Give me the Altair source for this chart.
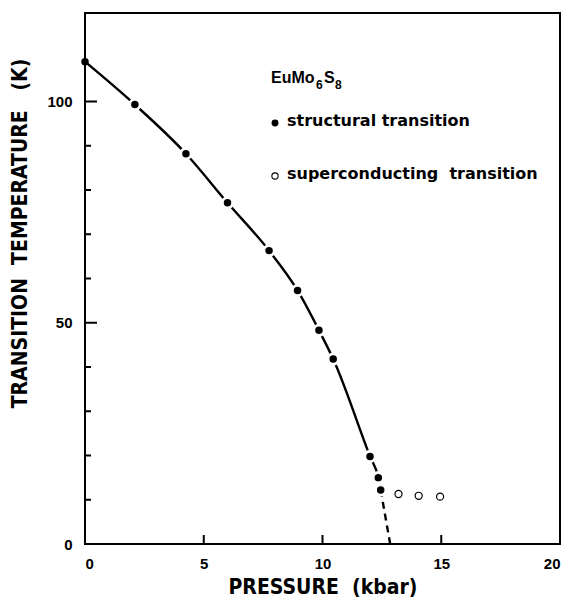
import altair as alt
import pandas as pd

# Structural transition (filled circles)
struct_p = [0.0, 2.1, 4.25, 6.0, 7.75, 8.95, 9.85, 10.45, 12.0, 12.35, 12.45]
struct_t = [109.0, 99.3, 88.2, 77.1, 66.3, 57.3, 48.3, 41.8, 19.8, 15.0, 12.2]

# Superconducting transition (open circles)
super_p = [13.2, 14.05, 14.95]
super_t = [11.3, 10.9, 10.7]

# Dashed extrapolation of the phase boundary down to T = 0
extrap_p = [12.45, 12.85]
extrap_t = [12.2, 0.0]

# Axis ticks
x_major = [5, 10, 15]
y_major = [50, 100]
y_minor = [10, 20, 30, 40, 60, 70, 80, 90]
x_labels = [0, 5, 10, 15, 20]
y_labels = [0, 50, 100]

W, H = 475, 531
TITLE_FONT = "'DejaVu Sans Condensed', 'Liberation Sans Narrow', Roboto, sans-serif"
LABEL_FONT = "Liberation Sans"
TEXT_FONT = "DejaVu Sans"

struct_df = pd.DataFrame({"p": struct_p, "t": struct_t})
super_df = pd.DataFrame({"p": super_p, "t": super_t})
extrap_df = pd.DataFrame({"p": extrap_p, "t": extrap_t})

xs = alt.Scale(domain=[0, 20], nice=False, zero=False)
ys = alt.Scale(domain=[0, 120], nice=False, zero=False)

x_axis = alt.Axis(
    values=x_labels, ticks=False, domain=False, grid=False,
    labelFont=LABEL_FONT, labelFontSize=15, labelFontWeight="bold",
    labelColor="black", labelPadding=12,
    title="PRESSURE\u00a0\u00a0(kbar)", titleFont=TITLE_FONT, titleFontSize=21,
    titleFontWeight="bold", titleColor="black", titleY=43,
    titleBaseline="middle",
)
y_axis = alt.Axis(
    values=y_labels, ticks=False, domain=False, grid=False,
    labelFont=LABEL_FONT, labelFontSize=15, labelFontWeight="bold",
    labelColor="black", labelPadding=13,
    title="TRANSITION\u00a0\u00a0TEMPERATURE\u00a0\u00a0\u00a0(K)",
    titleFont=TITLE_FONT, titleFontSize=21, titleFontWeight="bold",
    titleColor="black", titleAngle=270, titleX=-65, titleY=220,
    titleAlign="center", titleBaseline="middle",
)

X = alt.X("p:Q", scale=xs, axis=x_axis)
Y = alt.Y("t:Q", scale=ys, axis=y_axis)

curve = alt.Chart(struct_df).mark_line(
    color="black", strokeWidth=2.4, interpolate="monotone"
).encode(x=X, y=Y)

dashed = alt.Chart(extrap_df).mark_line(
    color="black", strokeWidth=2.4, strokeDash=[7, 5]
).encode(x=X, y=Y)

# white halo so the curve breaks around each marker
halo = alt.Chart(struct_df).transform_filter("datum.p > 0").mark_point(
    shape="circle", filled=True, color="white", size=170, opacity=1
).encode(x=X, y=Y)

dots = alt.Chart(struct_df).mark_point(
    shape="circle", filled=True, color="black", size=56, opacity=1
).encode(x=X, y=Y)

rings = alt.Chart(super_df).mark_point(
    shape="circle", filled=False, color="black", size=50, strokeWidth=1.2,
    opacity=1
).encode(x=X, y=Y)

# inward-pointing ticks
ymaj = alt.Chart(pd.DataFrame({"t": y_major})).mark_rule(
    color="black", strokeWidth=2
).encode(y=Y, x=alt.value(0), x2=alt.value(12))
ymin = alt.Chart(pd.DataFrame({"t": y_minor})).mark_rule(
    color="black", strokeWidth=2
).encode(y=Y, x=alt.value(0), x2=alt.value(6))
xmaj = alt.Chart(pd.DataFrame({"p": x_major})).mark_rule(
    color="black", strokeWidth=2
).encode(x=X, y=alt.value(H), y2=alt.value(H - 9))


# compound formula with subscripts
def label(text, x, y, size):
    return alt.Chart(pd.DataFrame({"s": [text]})).mark_text(
        font=LABEL_FONT, fontSize=size, fontWeight="bold", color="black",
        align="left", baseline="alphabetic"
    ).encode(text="s:N", x=alt.value(x), y=alt.value(y))


formula = [
    label("EuMo", 186, 70, 16),
    label("6", 231, 76, 12),
    label("S", 239, 70, 16),
    label("8", 250, 76, 12),
]

legend_dot = alt.Chart(pd.DataFrame({"k": ["s"]})).mark_point(
    shape="circle", filled=True, color="black", size=48, opacity=1
).encode(x=alt.value(190), y=alt.value(110))
legend_ring = alt.Chart(pd.DataFrame({"k": ["c"]})).mark_point(
    shape="circle", filled=False, color="black", size=40, strokeWidth=1.1,
    opacity=1
).encode(x=alt.value(190), y=alt.value(163))

legend_text = [
    alt.Chart(pd.DataFrame({"s": [s]})).mark_text(
        font=TEXT_FONT, fontSize=16, fontWeight="bold", color="black",
        align="left", baseline="middle"
    ).encode(text="s:N", x=alt.value(202), y=alt.value(yy))
    for s, yy in [("structural transition", 108),
                  ("superconducting\u00a0\u00a0transition", 161)]
]

chart = alt.layer(
    curve, dashed, halo, dots, rings, ymaj, ymin, xmaj,
    *formula, legend_dot, legend_ring, *legend_text
).properties(
    width=W, height=H,
    autosize=alt.AutoSizeParams(type="none"),
    padding={"left": 85, "top": 13, "right": 9, "bottom": 58},
).configure(
    background="white"
).configure_view(
    stroke="black", strokeWidth=2
)

chart.save("out.html", embed_options={"renderer": "svg", "actions": False})
